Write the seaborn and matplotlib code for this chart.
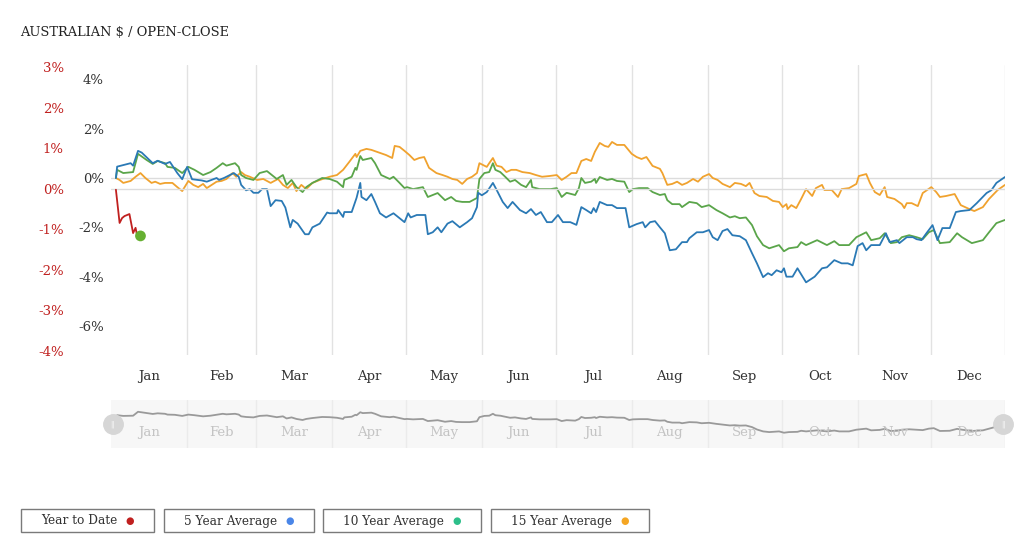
import matplotlib
matplotlib.use("Agg")
import matplotlib.pyplot as plt
import matplotlib.transforms as mtransforms
from matplotlib.patches import Rectangle
import seaborn as sns

sns.set_style("white")
plt.rcParams["font.family"] = ["DejaVu Serif", "DejaVu Sans"]

# Month labels (placed mid-month) and month boundaries, as day of year
months = ["Jan", "Feb", "Mar", "Apr", "May", "Jun",
          "Jul", "Aug", "Sep", "Oct", "Nov", "Dec"]
month_mid_days = [15.5, 45, 74.5, 105, 135.5, 166, 196.5, 227.5, 258, 288.5, 319, 349.5]
month_end_days = [31, 59, 90, 120, 151, 181, 212, 243, 273, 304, 334, 364]

# Year to date (right / red scale)
ytd_days = [2, 3.5, 4.5, 5.5, 7.5, 9, 10, 10.5, 12]
ytd_pct = [-0.02, -0.84, -0.72, -0.67, -0.62, -1.09, -0.96, -1.11, -1.16]

# 5 year average
days_5y = [2, 2.5, 8, 9, 11, 12.5, 17, 19, 22, 24, 27, 29, 31, 33, 37, 39, 43, 44, 46, 50,
           52, 53, 55, 56.5, 58, 60, 61.5, 63.5, 65, 67, 69.5, 71, 73, 74, 76, 79, 80.5, 82,
           85, 88, 89, 92, 92.5, 94.5, 95, 98, 100, 101.5, 102, 104, 106, 107.5, 109.5, 112,
           115, 117.5, 119.5, 121, 122, 124.5, 128, 129, 131, 133, 134.5, 137, 139, 142, 145,
           147, 149, 149.5, 151, 153, 155.5, 157, 159.5, 161.5, 163.5, 166.5, 169, 171, 173,
           175, 177.5, 179.5, 182, 184, 187, 189.5, 191.5, 193.5, 195.5, 196.5, 197.5, 199,
           202, 204, 206, 209.5, 211, 214, 216.5, 217.5, 219.5, 221.5, 223.5, 225.5, 227.5,
           230, 232.5, 234.5, 235.5, 238.5, 241, 243.5, 245, 247, 249, 251, 253, 256, 258.5,
           261, 263, 265.5, 267.5, 269, 271, 273, 274, 275, 277.5, 279.5, 283, 286.5, 289.5,
           291.5, 294.5, 297.5, 300, 302, 304, 306, 307.5, 309.5, 313, 315.5, 317, 320, 321,
           324, 326.5, 328, 330, 332, 334.5, 336.5, 338.5, 341.5, 344, 346, 349.5, 352.5,
           356.5, 358.5, 360.5, 364]
pct_5y = [0.0, 0.46, 0.6, 0.5, 1.1, 1.03, 0.6, 0.7, 0.57, 0.65, 0.2, -0.05, 0.45, -0.05,
          -0.1, -0.15, 0.0, -0.08, 0.0, 0.2, 0.05, -0.28, -0.5, -0.45, -0.6, -0.6, -0.45,
          -0.45, -1.14, -0.9, -0.93, -1.2, -2.0, -1.7, -1.85, -2.28, -2.28, -2.0, -1.85, -1.4,
          -1.43, -1.43, -1.3, -1.58, -1.38, -1.38, -0.8, -0.2, -0.77, -0.9, -0.65, -0.97,
          -1.43, -1.6, -1.43, -1.63, -1.79, -1.43, -1.6, -1.5, -1.5, -2.28, -2.2, -2.0, -2.2,
          -1.85, -1.75, -2.0, -1.79, -1.63, -1.18, -0.6, -0.7, -0.57, -0.2, -0.48, -0.97,
          -1.22, -0.97, -1.3, -1.43, -1.26, -1.5, -1.38, -1.79, -1.79, -1.5, -1.79, -1.79,
          -1.9, -1.18, -1.3, -1.43, -1.22, -1.38, -0.97, -1.1, -1.1, -1.22, -1.22, -2.0,
          -1.87, -1.79, -2.0, -1.79, -1.75, -2.0, -2.24, -2.93, -2.89, -2.6, -2.6, -2.44,
          -2.2, -2.2, -2.11, -2.4, -2.52, -2.15, -2.07, -2.32, -2.36, -2.52, -3.05, -3.46,
          -4.02, -3.86, -3.94, -3.74, -3.82, -3.66, -4.0, -4.0, -3.66, -4.23, -4.0, -3.66,
          -3.62, -3.33, -3.46, -3.46, -3.54, -2.76, -2.64, -2.93, -2.72, -2.72, -2.24, -2.6,
          -2.52, -2.64, -2.4, -2.4, -2.48, -2.52, -2.24, -1.91, -2.52, -2.03, -2.03, -1.38,
          -1.34, -1.3, -1.02, -0.61, -0.49, -0.2, 0.04]

# 10 year average
days_10y = [2, 2.5, 5, 9, 11, 14.5, 17, 19, 22, 23, 26, 29, 31.5, 34, 37.5, 40.5, 43, 45.5,
            47, 50.5, 52, 53, 55, 58, 60.5, 63.5, 65.5, 67.5, 70, 71.5, 73.5, 75.5, 78, 79.5,
            82, 86, 89, 92, 94.5, 95, 98, 99.5, 100, 101.5, 102.5, 106, 107.5, 110, 113.5,
            115, 117.5, 119.5, 120.5, 123, 127, 129, 131, 133, 136, 138.5, 140.5, 143, 146,
            149, 150, 152, 154, 155.5, 156.5, 158.5, 160.5, 162.5, 164.5, 167, 169, 171,
            171.5, 174.5, 177.5, 179, 181.5, 183.5, 185.5, 189, 190.5, 191.5, 193, 195.5, 197,
            197.5, 199, 202, 204, 206, 209, 211, 212.5, 215, 218.5, 220.5, 223.5, 225.5, 226.5,
            228.5, 231.5, 232.5, 235.5, 238.5, 240.5, 243.5, 246.5, 249, 252, 254, 256, 258.5,
            261, 263, 265.5, 268, 272, 274, 276, 279.5, 281, 283, 287.5, 291.5, 294.5, 296.5,
            300.5, 303.5, 307.5, 309.5, 313, 315, 317.5, 320, 322, 325, 328, 330.5, 333, 335,
            337.5, 341.5, 344.5, 346.5, 350.5, 355, 357.5, 360.5, 364]
pct_10y = [0.0, 0.33, 0.2, 0.24, 0.98, 0.73, 0.57, 0.69, 0.6, 0.45, 0.41, 0.2, 0.45, 0.33,
           0.12, 0.24, 0.41, 0.6, 0.5, 0.6, 0.45, 0.12, 0.0, -0.08, 0.2, 0.28, 0.12, -0.04,
           0.12, -0.28, -0.08, -0.37, -0.57, -0.37, -0.2, 0.0, -0.04, -0.15, -0.37, -0.08,
           0.05, 0.41, 0.33, 0.89, 0.73, 0.81, 0.6, 0.12, -0.04, 0.05, -0.2, -0.41, -0.37,
           -0.45, -0.37, -0.77, -0.69, -0.61, -0.9, -0.77, -0.93, -0.97, -0.97, -0.81, -0.04,
           0.2, 0.24, 0.6, 0.33, 0.24, 0.05, -0.15, -0.08, -0.28, -0.37, -0.08, -0.37, -0.45,
           -0.45, -0.45, -0.41, -0.77, -0.6, -0.69, -0.41, 0.0, -0.2, -0.15, -0.04, -0.2,
           0.04, -0.08, -0.04, -0.12, -0.15, -0.57, -0.45, -0.41, -0.41, -0.57, -0.69, -0.65,
           -0.9, -1.06, -1.06, -1.18, -0.97, -1.02, -1.18, -1.1, -1.3, -1.43, -1.6, -1.55,
           -1.63, -1.6, -1.91, -2.36, -2.72, -2.85, -2.72, -2.97, -2.85, -2.8, -2.6, -2.72,
           -2.52, -2.72, -2.56, -2.72, -2.72, -2.4, -2.2, -2.52, -2.44, -2.24, -2.64, -2.6,
           -2.4, -2.32, -2.4, -2.48, -2.2, -2.11, -2.64, -2.6, -2.24, -2.4, -2.64, -2.52,
           -2.2, -1.83, -1.7]

# 15 year average
days_15y = [2, 3.5, 5, 8, 10, 12, 14, 15, 16.5, 18, 20, 22, 25, 27, 29, 31.5, 33.5, 35.5,
            37.5, 39, 41, 43, 45, 47, 49.5, 51, 53, 54.5, 56.5, 59.5, 62, 65, 68, 70, 72, 74,
            75.5, 77.5, 79.5, 82, 85, 89, 92, 94.5, 97, 99.5, 100, 101.5, 104, 106, 109.5,
            112, 114.5, 115.5, 117.5, 119.5, 121.5, 123.5, 125.5, 127.5, 129.5, 132.5, 135,
            137, 139, 141, 143, 145, 147, 149, 150, 153, 154, 155.5, 157, 159, 161, 163, 165,
            167.5, 170.5, 173, 175.5, 178.5, 181.5, 183.5, 185.5, 187.5, 189.5, 191.5, 193.5,
            195.5, 197, 199, 201, 202.5, 204, 206, 209, 212, 214, 216, 218, 220.5, 223.5,
            224.5, 226.5, 228.5, 230.5, 232.5, 234.5, 237, 239, 241, 243.5, 245, 247, 249, 252,
            254, 256.5, 258.5, 260, 262, 264, 267, 269.5, 272, 273.5, 275, 275.5, 277, 279,
            281, 283, 285.5, 287, 289.5, 290.5, 293.5, 296, 297.5, 300.5, 303.5, 304.5, 307.5,
            309, 311, 313, 315, 316, 319, 322, 323, 324, 326, 328.5, 330.5, 334, 336, 337.5,
            340, 343.5, 346, 349.5, 351.5, 355, 357.5, 361, 364]
pct_15y = [0.0, -0.08, -0.2, -0.12, 0.05, 0.2, 0.0, -0.08, -0.2, -0.15, -0.24, -0.2, -0.2,
           -0.37, -0.53, -0.12, -0.28, -0.37, -0.24, -0.41, -0.28, -0.15, -0.12, -0.04, 0.2,
           0.05, 0.24, 0.12, 0.05, -0.08, -0.04, -0.2, -0.04, -0.28, -0.41, -0.2, -0.53,
           -0.28, -0.45, -0.2, -0.08, 0.05, 0.12, 0.33, 0.65, 0.98, 0.85, 1.1, 1.18, 1.14,
           1.02, 0.93, 0.81, 1.3, 1.26, 1.1, 0.93, 0.73, 0.81, 0.85, 0.41, 0.2, 0.12, 0.05,
           -0.04, -0.08, -0.24, -0.04, 0.05, 0.2, 0.6, 0.45, 0.6, 0.81, 0.5, 0.45, 0.24,
           0.33, 0.33, 0.24, 0.2, 0.12, 0.05, 0.08, 0.12, -0.08, 0.05, 0.2, 0.2, 0.69, 0.77,
           0.69, 1.06, 1.42, 1.3, 1.26, 1.46, 1.34, 1.34, 0.98, 0.85, 0.77, 0.85, 0.49, 0.37,
           0.2, -0.28, -0.24, -0.15, -0.28, -0.2, -0.04, -0.15, 0.05, 0.16, 0.0, -0.08, -0.24,
           -0.37, -0.2, -0.24, -0.33, -0.2, -0.61, -0.73, -0.77, -0.93, -0.97, -1.18, -1.06,
           -1.26, -1.1, -1.22, -0.85, -0.45, -0.73, -0.41, -0.28, -0.49, -0.49, -0.77, -0.45,
           -0.41, -0.24, 0.08, 0.16, -0.2, -0.57, -0.69, -0.37, -0.77, -0.85, -1.06, -1.22,
           -1.02, -1.02, -1.14, -0.61, -0.37, -0.57, -0.77, -0.73, -0.65, -1.1, -1.26, -1.34,
           -1.18, -0.85, -0.49, -0.28]

left_ticks = [-6, -4, -2, 0, 2, 4]
right_ticks = [-4, -3, -2, -1, 0, 1, 2, 3]

legend_labels = ["Year to Date", "5 Year Average", "10 Year Average", "15 Year Average"]
legend_colors = ["#c0201f", "#4a86e8", "#2dbf8a", "#f5a623"]

RED = "#c0201f"
W, H = 1024, 552

fig = plt.figure(figsize=(W / 100, H / 100), dpi=100)
fig.patch.set_facecolor("white")

# main chart
ax = fig.add_axes([111 / W, 1 - 355 / H, 894 / W, 290 / H])
ax.set_xlim(0, 364)
ax.set_ylim(-7.175, 4.58)
ax_r = ax.twinx()
ax_r.set_ylim(-4.10, 3.06)

for d in month_end_days:
    ax.axvline(d, color="#e2e2e2", lw=1, zorder=0)
ax.axhline(0, color="#dcdcdc", lw=1, zorder=0)
ax_r.axhline(0, color="#dcdcdc", lw=1, zorder=0)

sns.lineplot(x=days_15y, y=pct_15y, ax=ax, color="#f0a22e", lw=1.3, estimator=None)
sns.lineplot(x=days_10y, y=pct_10y, ax=ax, color="#5aa54a", lw=1.3, estimator=None)
sns.lineplot(x=days_5y, y=pct_5y, ax=ax, color="#2a79b5", lw=1.3, estimator=None)
sns.lineplot(x=ytd_days, y=ytd_pct, ax=ax_r, color=RED, lw=1.3, estimator=None)
sns.scatterplot(x=ytd_days[-1:], y=ytd_pct[-1:], ax=ax_r, color="#66b032", s=60,
                edgecolor="none", zorder=5)

ax.set_xticks(month_mid_days)
ax.set_xticklabels(months)
ax.set_yticks(left_ticks)
ax.set_yticklabels([f"{t}%" for t in left_ticks])
ax.tick_params(axis="x", length=0, pad=11, labelsize=9.5, labelcolor="#333333")
ax.tick_params(axis="y", length=0, pad=5, labelsize=9.5, labelcolor="#333333")

ax_r.yaxis.tick_left()
ax_r.set_yticks(right_ticks)
ax_r.set_yticklabels([f"{t}%" for t in right_ticks])
ax_r.tick_params(axis="y", length=0, pad=34, labelsize=9.5, labelcolor=RED)

for a in (ax, ax_r):
    a.set_xlabel("")
    a.set_ylabel("")
    for s in a.spines.values():
        s.set_visible(False)

# navigator strip
nav = fig.add_axes([111 / W, 1 - 448 / H, 894 / W, 48 / H])
nav.set_facecolor("#f7f7f7")
nav.set_xlim(0, 364)
nav.set_ylim(-5.85, 3.2)
for d in month_end_days:
    nav.axvline(d, color="#ebebeb", lw=1, zorder=0)
sns.lineplot(x=days_10y, y=pct_10y, ax=nav, color="#9a9a9a", lw=1.3, estimator=None)
nav.set_xticks([])
nav.set_yticks([])
nav.set_xlabel("")
nav.set_ylabel("")
for s in nav.spines.values():
    s.set_visible(False)
blend = mtransforms.blended_transform_factory(nav.transData, nav.transAxes)
for m, d in zip(months, month_mid_days):
    nav.text(d, 0.33, m, transform=blend, ha="center", va="center",
             fontsize=9.5, color="#c4c4c4")
for hx in (0.002, 0.998):
    nav.plot([hx], [0.5], transform=nav.transAxes, marker="o", ms=14,
             color="#d6d6d6", ls="none", clip_on=False, zorder=6)
    nav.text(hx, 0.5, "||", transform=nav.transAxes, ha="center", va="center",
             fontsize=5, color="white", zorder=7)

# title
fig.text(20 / W, 1 - 33 / H, r"AUSTRALIAN \$ / OPEN-CLOSE", fontsize=9.4,
         color="#222222", va="center", ha="left")

# legend boxes
box_x = [(21, 154), (164, 314), (323, 481), (491, 649)]
for (x0, x1), lab, col in zip(box_x, legend_labels, legend_colors):
    fig.add_artist(Rectangle((x0 / W, 1 - 532 / H), (x1 - x0) / W, 23 / H,
                             transform=fig.transFigure, facecolor="white",
                             edgecolor="#7a7a7a", lw=1))
    fig.text((x0 + 20) / W, 1 - 521 / H, lab, fontsize=8.7, color="#333333",
             ha="left", va="center")
    fig.text((x1 - 24) / W, 1 - 521 / H, "●", fontsize=7, color=col,
             ha="center", va="center", family="DejaVu Sans")

fig.savefig("out.png", dpi=100)
